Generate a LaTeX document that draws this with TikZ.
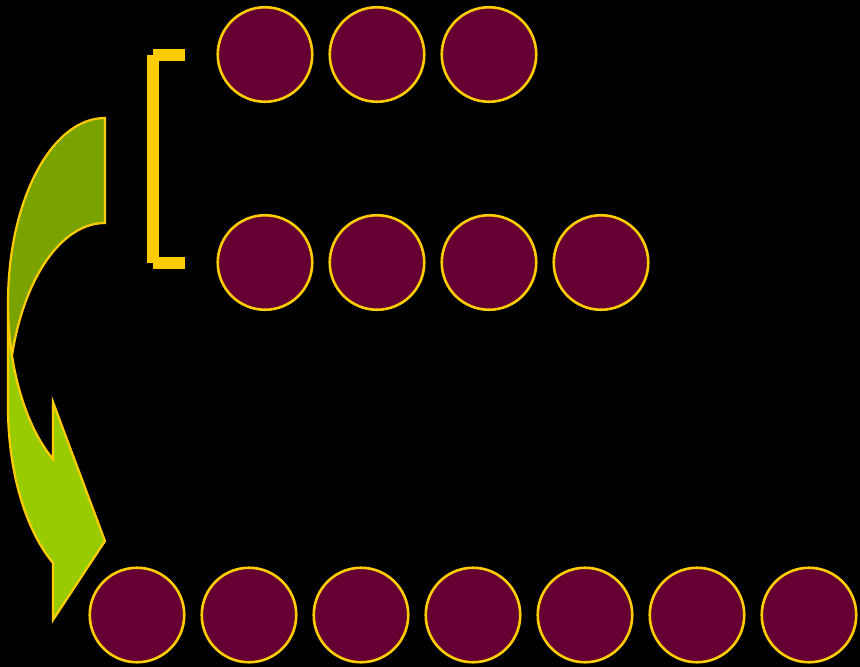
\documentclass[tikz,border=0pt]{standalone}
\definecolor{gold}{HTML}{FFCC00}
\definecolor{wine}{HTML}{660033}
\definecolor{lightgreen}{HTML}{99CC00}
\definecolor{darkgreen}{HTML}{7AA300}
\begin{document}
\begin{tikzpicture}[x=1pt,y=1pt,
  ball/.style={circle, draw=gold, line width=2.6pt, fill=wine, minimum size=94.5pt, inner sep=0pt},
  rim/.style={draw=gold, line width=2.2pt, line join=miter},
  er/.style={x radius=97, y radius=185}]
\fill[black] (0,0) rectangle (860,-667);
\useasboundingbox (0,0) rectangle (860,-667);
% curved arrow: front (light) part
\fill[lightgreen] (8,-303) arc[start angle=180, end angle=237.6, er]
  -- (53,-402) -- (105,-541) -- (53,-620) -- (53,-563)
  arc[start angle=237.6, end angle=180, er] -- cycle;
% back (dark) part
\fill[darkgreen] (105,-223) arc[start angle=90, end angle=163.5, er]
  arc[start angle=196.5, end angle=90, er] -- cycle;
% outline
\draw[rim] (8,-303) arc[start angle=180, end angle=237.6, er]
  -- (53,-402) -- (105,-541) -- (53,-620) -- (53,-563)
  arc[start angle=237.6, end angle=180, er] -- (8,-303)
  arc[start angle=180, end angle=90, er] -- (105,-223)
  arc[start angle=90, end angle=163.5, er];
% bracket
\fill[gold] (147,-55) rectangle (159,-263);
\fill[gold] (153,-49) rectangle (185,-61);
\fill[gold] (153,-257) rectangle (185,-269);
% top row
\node[ball] (t1) at (265,-54.5) {};
\node[ball] (t2) at (377,-54.5) {};
\node[ball] (t3) at (489,-54.5) {};
% middle row
\node[ball] (m1) at (265,-262.5) {};
\node[ball] (m2) at (377,-262.5) {};
\node[ball] (m3) at (489,-262.5) {};
\node[ball] (m4) at (601,-262.5) {};
% bottom row
\node[ball] (b1) at (137,-615) {};
\node[ball] (b2) at (249,-615) {};
\node[ball] (b3) at (361,-615) {};
\node[ball] (b4) at (473,-615) {};
\node[ball] (b5) at (585,-615) {};
\node[ball] (b6) at (697,-615) {};
\node[ball] (b7) at (809,-615) {};
\end{tikzpicture}
\end{document}
